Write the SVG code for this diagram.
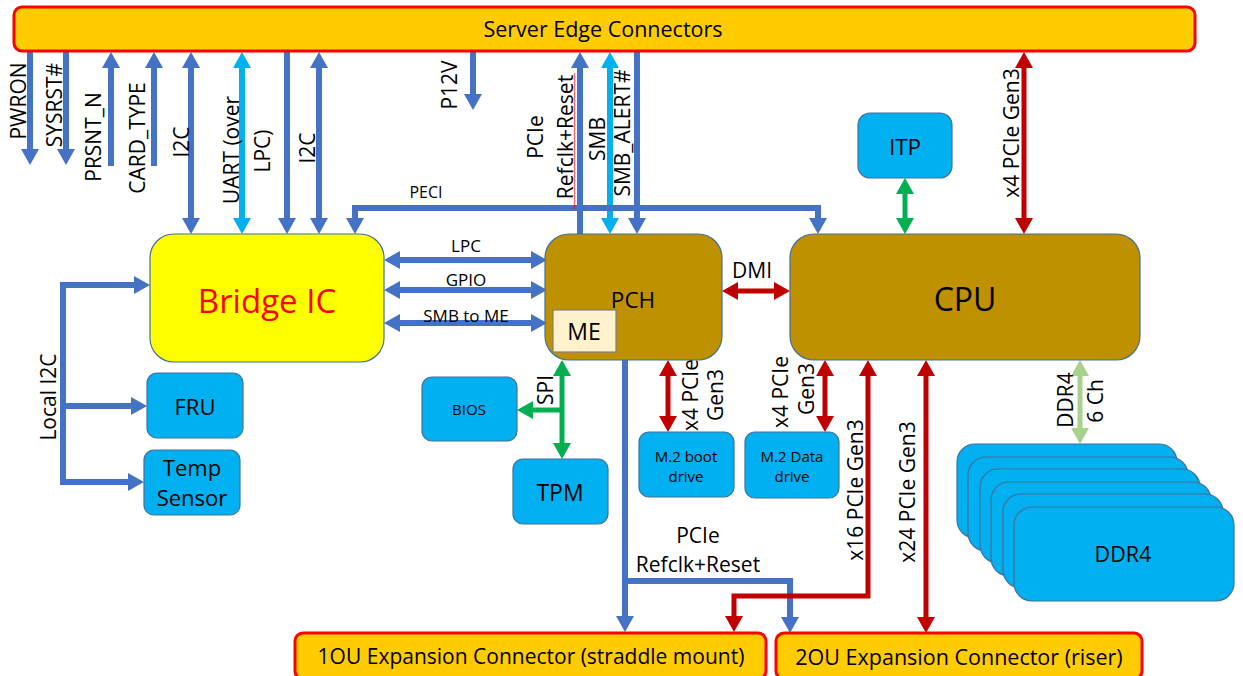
<svg xmlns="http://www.w3.org/2000/svg" width="1243" height="676" viewBox="0 0 1243 676">
  <style>
    text { font-family: "Open Sans", "Noto Sans", "DejaVu Sans", sans-serif; fill: #000; }
    .edge { fill: #FFCC00; stroke: #FF0000; stroke-width: 3; }
    .blk { fill: #00B0F0; stroke: #41719C; stroke-width: 1.2; }
    .chip { fill: #BF9000; stroke: #41719C; stroke-width: 1.2; }
    .w { fill: none; stroke-linejoin: miter; }
    .b { stroke: #4472C4; stroke-width: 6; }
    .c { stroke: #00B0F0; stroke-width: 6; }
    .r { stroke: #C00000; stroke-width: 5; }
    .g { stroke: #00B050; stroke-width: 5; }
    .lg { stroke: #A9D18E; stroke-width: 5; }
    .bm { marker-end: url(#hb); }
    .bb { marker-start: url(#hb); marker-end: url(#hb); }
    .cb { marker-start: url(#hc); marker-end: url(#hc); }
    .rb { marker-start: url(#hr); marker-end: url(#hr); }
    .gb { marker-start: url(#hg); marker-end: url(#hg); }
    .lgb { marker-start: url(#hlg); marker-end: url(#hlg); }
    .lbl { font-size: 20px; text-anchor: middle; dominant-baseline: central; }
    .rot { font-size: 21px; }
    .sm { font-size: 17px; text-anchor: middle; dominant-baseline: central; }
  </style>
  <defs>
    <marker id="hb" markerUnits="userSpaceOnUse" markerWidth="16" markerHeight="18" refX="4" refY="9" orient="auto-start-reverse"><path d="M0,0 L16,9 L0,18 z" fill="#4472C4"/></marker>
    <marker id="hc" markerUnits="userSpaceOnUse" markerWidth="16" markerHeight="18" refX="4" refY="9" orient="auto-start-reverse"><path d="M0,0 L16,9 L0,18 z" fill="#00B0F0"/></marker>
    <marker id="hr" markerUnits="userSpaceOnUse" markerWidth="16" markerHeight="18" refX="4" refY="9" orient="auto-start-reverse"><path d="M0,0 L16,9 L0,18 z" fill="#C00000"/></marker>
    <marker id="hg" markerUnits="userSpaceOnUse" markerWidth="16" markerHeight="18" refX="4" refY="9" orient="auto-start-reverse"><path d="M0,0 L16,9 L0,18 z" fill="#00B050"/></marker>
    <marker id="hlg" markerUnits="userSpaceOnUse" markerWidth="16" markerHeight="18" refX="4" refY="9" orient="auto-start-reverse"><path d="M0,0 L16,9 L0,18 z" fill="#A9D18E"/></marker>
  </defs>

  <rect width="1243" height="676" fill="#FFFFFF"/>

  <!-- connectors -->
  <g id="connectors">
    <path class="w b bm" d="M30,51 V153"/>
    <path class="w b bm" d="M66,51 V153"/>
    <path class="w b bm" d="M111,166 V64"/>
    <path class="w b bm" d="M154,166 V64"/>
    <path class="w b bb" d="M191,64 V222"/>
    <path class="w c cb" d="M242,64 V222"/>
    <path class="w b bm" d="M287,51 V222"/>
    <path class="w b bb" d="M319,64 V222"/>
    <path class="w b bm" d="M473,51 V98"/>
    <path class="w b bm" d="M580,234 V64"/>
    <path class="w c cb" d="M610,64 V222"/>
    <path class="w b bm" d="M637,51 V222"/>
    <path class="w r rb" d="M1024,64 V222"/>
    <path class="w b bb" d="M355,222 V208 H818 V222"/>
    <path class="w g gb" d="M905,190 V222"/>
    <path class="w b bb" d="M396,260 H535"/>
    <path class="w b bb" d="M396,290 H535"/>
    <path class="w b bb" d="M396,323 H535"/>
    <path class="w r rb" d="M734,291 H778"/>
    <path class="w r rb" d="M668,372 V420"/>
    <path class="w r rb" d="M825,372 V420"/>
    <path class="w g gb" d="M562,372 V447"/>
    <path class="w g" d="M562,410 H529" marker-end="url(#hg)"/>
    <path class="w b bm" d="M625,360 V581 H790 V621"/>
    <path class="w b bm" d="M625,581 V620"/>
    <path class="w r" d="M868,372 V596 H734 V620" marker-start="url(#hr)" marker-end="url(#hr)"/>
    <path class="w r rb" d="M926,372 V621"/>
    <path class="w lg lgb" d="M1080,372 V432"/>
    <path class="w b" d="M138,285 H63 V482 H132" marker-start="url(#hb)" marker-end="url(#hb)"/>
    <path class="w b bm" d="M63,406 H135"/>
    <!-- spell-check squiggle beside the rotated Refclk+Reset label -->
    <path d="M575,73 l-1,2 l1,2 l-1,2 l1,2 l-1,2 l1,2 l-1,2 l1,2 l-1,2 l1,2 l-1,2 l1,2 l-1,2 l1,2 l-1,2 l1,2 l-1,2 l1,2 l-1,2 l1,2 l-1,2 l1,2 l-1,2 l1,2 l-1,2 l1,2 l-1,2 l1,2 l-1,2 l1,2 l-1,2 l1,2 l-1,2 l1,2 l-1,2 l1,2 l-1,2 l1,2 l-1,2 l1,2 l-1,2 l1,2 l-1,2 l1,2 l-1,2 l1,2 l-1,2 l1,2 l-1,2 l1,2 l-1,2 l1,2 l-1,2 l1,2 l-1,2 l1,2 l-1,2 l1,2 l-1,2 l1,2 l-1,2 l1,2 l-1,2 l1,2 l-1,2 l1,2 l-1,2 l1,2" fill="none" stroke="#FF0000" stroke-width="0.8"/>

    <!-- signal labels -->
    <text class="lbl rot" transform="rotate(-90 18 101)" x="18" y="101">PWRON</text>
    <text class="lbl rot" transform="rotate(-90 54 105)" x="54" y="105">SYSRST#</text>
    <text class="lbl rot" transform="rotate(-90 93 137)" x="93" y="137">PRSNT_N</text>
    <text class="lbl rot" transform="rotate(-90 137 138)" x="137" y="138">CARD_TYPE</text>
    <text class="lbl rot" transform="rotate(-90 181 142)" x="181" y="142">I2C</text>
    <text class="lbl rot" transform="rotate(-90 231 150)" x="231" y="150">UART (over</text>
    <text class="lbl rot" transform="rotate(-90 262 151)" x="262" y="151">LPC)</text>
    <text class="lbl rot" transform="rotate(-90 307 148)" x="307" y="148">I2C</text>
    <text class="lbl rot" transform="rotate(-90 449 85)" x="449" y="85">P12V</text>
    <text class="lbl rot" transform="rotate(-90 535 137)" x="535" y="137">PCIe</text>
    <text class="lbl rot" transform="rotate(-90 565 137)" x="565" y="137">Refclk+Reset</text>
    <text class="lbl rot" transform="rotate(-90 597 139)" x="597" y="139">SMB</text>
    <text class="lbl rot" transform="rotate(-90 622 133)" x="622" y="133">SMB_ALERT#</text>
    <text class="lbl rot" transform="rotate(-90 1011 133)" x="1011" y="133">x4 PCIe Gen3</text>
    <text class="sm" x="426" y="192" style="font-size:16px">PECI</text>
    <text class="sm" x="466" y="245">LPC</text>
    <text class="sm" x="466" y="279">GPIO</text>
    <text class="sm" x="466" y="315">SMB to ME</text>
    <text class="lbl" x="752" y="270" style="font-size:21px">DMI</text>
    <text class="lbl rot" transform="rotate(-90 690 395)" x="690" y="395">x4 PCIe</text>
    <text class="lbl rot" transform="rotate(-90 715 395)" x="715" y="395">Gen3</text>
    <text class="lbl rot" transform="rotate(-90 780 392)" x="780" y="392">x4 PCIe</text>
    <text class="lbl rot" transform="rotate(-90 806 389)" x="806" y="389">Gen3</text>
    <text class="lbl rot" transform="rotate(-90 545 390)" x="545" y="390">SPI</text>
    <text class="lbl" x="698" y="535" style="font-size:21px">PCIe</text>
    <text class="lbl" x="698" y="564" style="font-size:21px">Refclk+Reset</text>
    <text class="lbl rot" transform="rotate(-90 855 490)" x="855" y="490">x16 PCIe Gen3</text>
    <text class="lbl rot" transform="rotate(-90 907 492)" x="907" y="492">x24 PCIe Gen3</text>
    <text class="lbl rot" transform="rotate(-90 1065 400)" x="1065" y="400">DDR4</text>
    <text class="lbl rot" transform="rotate(-90 1095 401)" x="1095" y="401">6 Ch</text>
    <text class="lbl rot" transform="rotate(-90 48 397)" x="48" y="397">Local I2C</text>
  </g>

  <!-- nodes -->
  <g id="edge-connectors">
    <rect class="edge" x="14" y="7" width="1181" height="44" rx="8"/>
    <text class="lbl" x="603" y="28" style="font-size:21.5px">Server Edge Connectors</text>
  </g>
  <g id="bridge-ic">
    <rect x="150" y="234" width="234" height="128" rx="24" fill="#FFFF00" stroke="#41719C" stroke-width="1.2"/>
    <text class="lbl" x="267" y="300" style="font-size:33px; fill:#FF0000">Bridge IC</text>
  </g>
  <g id="pch">
    <rect class="chip" x="545" y="234" width="177" height="126" rx="24"/>
    <text class="lbl" x="633" y="299" style="font-size:22.5px">PCH</text>
  </g>
  <g id="me">
    <rect x="553" y="310" width="63" height="42" fill="#FFF2CC" stroke="#7F7F7F" stroke-width="1.2"/>
    <text class="lbl" x="584" y="331" style="font-size:23px">ME</text>
  </g>
  <g id="cpu">
    <rect class="chip" x="790" y="234" width="350" height="126" rx="24"/>
    <text class="lbl" x="965" y="298" style="font-size:32px">CPU</text>
  </g>
  <g id="itp">
    <rect class="blk" x="858" y="113" width="94" height="65" rx="12"/>
    <text class="lbl" x="905" y="146" style="font-size:22.5px">ITP</text>
  </g>
  <g id="fru">
    <rect class="blk" x="147" y="373" width="96" height="65" rx="10"/>
    <text class="lbl" x="195" y="406" style="font-size:22px">FRU</text>
  </g>
  <g id="temp-sensor">
    <rect class="blk" x="144" y="450" width="96" height="65" rx="10"/>
    <text class="lbl" x="192" y="467" style="font-size:22px">Temp</text>
    <text class="lbl" x="192" y="497" style="font-size:22px">Sensor</text>
  </g>
  <g id="bios">
    <rect class="blk" x="422" y="377" width="95" height="64" rx="10"/>
    <text class="sm" x="469" y="409" style="font-size:15px">BIOS</text>
  </g>
  <g id="tpm">
    <rect class="blk" x="513" y="459" width="95" height="65" rx="10"/>
    <text class="lbl" x="560" y="492" style="font-size:23px">TPM</text>
  </g>
  <g id="m2-boot">
    <rect class="blk" x="639" y="432" width="95" height="65" rx="10"/>
    <text class="sm" x="686" y="456" style="font-size:15px">M.2 boot</text>
    <text class="sm" x="686" y="476" style="font-size:15px">drive</text>
  </g>
  <g id="m2-data">
    <rect class="blk" x="745" y="432" width="94" height="66" rx="10"/>
    <text class="sm" x="792" y="456" style="font-size:15px">M.2 Data</text>
    <text class="sm" x="792" y="476" style="font-size:15px">drive</text>
  </g>
  <g id="ddr4">
    <rect class="blk" x="957" y="444" width="220" height="94" rx="18"/>
    <rect class="blk" x="968" y="457" width="220" height="94" rx="18"/>
    <rect class="blk" x="980" y="469" width="220" height="94" rx="18"/>
    <rect class="blk" x="991" y="482" width="220" height="94" rx="18"/>
    <rect class="blk" x="1003" y="494" width="220" height="94" rx="18"/>
    <rect class="blk" x="1014" y="507" width="220" height="94" rx="18"/>
    <text class="lbl" x="1123" y="553" style="font-size:21.5px">DDR4</text>
  </g>
  <g id="exp-1ou">
    <rect class="edge" x="295" y="633" width="471" height="46" rx="8"/>
    <text class="lbl" x="531" y="656" style="font-size:21px">1OU Expansion Connector (straddle mount)</text>
  </g>
  <g id="exp-2ou">
    <rect class="edge" x="776" y="633" width="366" height="46" rx="8"/>
    <text class="lbl" x="959" y="656" style="font-size:21.5px">2OU Expansion Connector (riser)</text>
  </g>
</svg>
